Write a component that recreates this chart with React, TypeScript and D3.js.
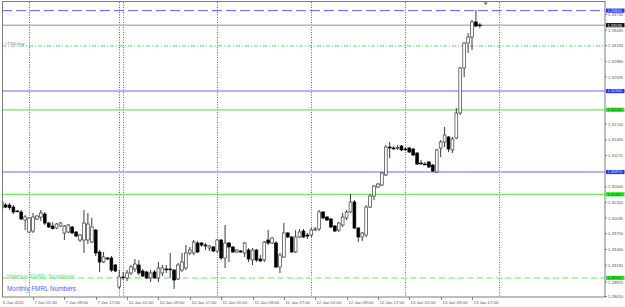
import React from 'react';
import * as d3 from 'd3';

const W = 625;
const H = 307;

// hourly bars, index 0 = 7 Jan 01:00, first bar index = -8
const firstIndex = -8;
const opens = [
  1.30325, 1.30271, 1.30271, 1.30234, 1.30162, 1.30144, 1.29999, 1.29781, 1.29799, 1.30017,
  1.30053, 1.30107, 1.29944, 1.29890, 1.29853, 1.29890, 1.29763, 1.29781, 1.29872, 1.29781,
  1.29636, 1.29636, 1.29636, 1.29599, 1.29817, 1.29418, 1.29236, 1.29309, 1.29309, 1.29182,
  1.28783, 1.28964, 1.28946, 1.29037, 1.29109, 1.29182, 1.29073, 1.29055, 1.28946, 1.29055,
  1.28946, 1.29037, 1.29109, 1.29109, 1.29091, 1.28928, 1.29091, 1.29127, 1.29400, 1.29400,
  1.29581, 1.29581, 1.29545, 1.29490, 1.29509, 1.29436, 1.29636, 1.29309, 1.29581, 1.29509,
  1.29418, 1.29436, 1.29400, 1.29454, 1.29273, 1.29454, 1.29291, 1.29273, 1.29636, 1.29581,
  1.29581, 1.29146, 1.29327, 1.29763, 1.29690, 1.29418, 1.29690, 1.29799, 1.29726, 1.29726,
  1.29817, 1.29835, 1.30144, 1.30053, 1.30017, 1.29890, 1.29817, 1.29908, 1.30035, 1.30144,
  1.30325, 1.29853, 1.29690, 1.29726, 1.30234, 1.30434, 1.30598, 1.30634, 1.30816, 1.31324,
  1.31306, 1.31306, 1.31342, 1.31288, 1.31306, 1.31288, 1.31215, 1.31034, 1.31015, 1.31052,
  1.30997, 1.30870, 1.31306, 1.31415, 1.31506, 1.31270, 1.31488, 1.31941, 1.32759, 1.33212,
  1.33321, 1.33594, 1.33539,
];
const highs = [
  1.30362, 1.30307, 1.30307, 1.30271, 1.30180, 1.30180, 1.30089, 1.30053, 1.30126, 1.30089,
  1.30180, 1.30144, 1.29962, 1.29962, 1.29944, 1.29962, 1.29908, 1.29926, 1.29890, 1.29799,
  1.29745, 1.30180, 1.30126, 1.30035, 1.29835, 1.29454, 1.29418, 1.29327, 1.29345, 1.29200,
  1.29091, 1.29055, 1.29091, 1.29182, 1.29291, 1.29273, 1.29109, 1.29073, 1.29091, 1.29091,
  1.29236, 1.29182, 1.29182, 1.29400, 1.29109, 1.29218, 1.29400, 1.29545, 1.29509, 1.29636,
  1.29618, 1.29599, 1.29581, 1.29545, 1.29527, 1.29654, 1.29654, 1.29908, 1.29599, 1.29527,
  1.29472, 1.29454, 1.29599, 1.29490, 1.29490, 1.29472, 1.29363, 1.29618, 1.29817, 1.29690,
  1.29618, 1.29400, 1.29944, 1.29781, 1.29708, 1.29817, 1.29835, 1.29835, 1.29763, 1.29853,
  1.29872, 1.30180, 1.30162, 1.30071, 1.30035, 1.29908, 1.29962, 1.30126, 1.30180, 1.30470,
  1.30362, 1.29872, 1.29781, 1.30271, 1.30470, 1.30634, 1.30670, 1.30870, 1.31360, 1.31415,
  1.31342, 1.31360, 1.31360, 1.31324, 1.31324, 1.31306, 1.31233, 1.31088, 1.31052, 1.31070,
  1.31015, 1.31288, 1.31451, 1.31687, 1.31524, 1.31506, 1.32032, 1.32777, 1.33230, 1.33394,
  1.33630, 1.33811, 1.33575,
];
const lows = [
  1.30053, 1.30216, 1.30180, 1.30107, 1.30144, 1.29999, 1.29817, 1.29763, 1.29763, 1.29999,
  1.29980, 1.29908, 1.29853, 1.29826, 1.29835, 1.29872, 1.29636, 1.29763, 1.29745, 1.29690,
  1.29599, 1.29400, 1.29563, 1.29581, 1.29345, 1.29055, 1.29218, 1.29273, 1.29055, 1.29055,
  1.28746, 1.28909, 1.28891, 1.29000, 1.29055, 1.29000, 1.28964, 1.28928, 1.28873, 1.28928,
  1.28873, 1.28982, 1.29037, 1.28946, 1.28746, 1.28909, 1.29055, 1.29091, 1.29363, 1.29363,
  1.29400, 1.29509, 1.29454, 1.29436, 1.29418, 1.29400, 1.29273, 1.29127, 1.29236, 1.29400,
  1.29400, 1.29400, 1.29327, 1.29236, 1.29182, 1.29236, 1.29236, 1.29236, 1.29545, 1.29563,
  1.29127, 1.29037, 1.29309, 1.29672, 1.29400, 1.29400, 1.29672, 1.29672, 1.29654, 1.29690,
  1.29799, 1.29799, 1.30017, 1.29980, 1.29853, 1.29781, 1.29781, 1.29872, 1.29999, 1.30126,
  1.29835, 1.29599, 1.29618, 1.29690, 1.30216, 1.30362, 1.30579, 1.30616, 1.30798, 1.31124,
  1.31270, 1.31270, 1.31251, 1.31251, 1.31215, 1.31161, 1.30997, 1.30997, 1.30997, 1.30943,
  1.30870, 1.30852, 1.31142, 1.31324, 1.31233, 1.31215, 1.31470, 1.31905, 1.32595, 1.33031,
  1.33085, 1.33503, 1.33485,
];
const closes = [
  1.30216, 1.30234, 1.30225, 1.30144, 1.30160, 1.30017, 1.30053, 1.30035, 1.30053, 1.30071,
  1.30126, 1.29944, 1.29872, 1.29844, 1.29926, 1.29944, 1.29890, 1.29908, 1.29763, 1.29708,
  1.29726, 1.29944, 1.29926, 1.29872, 1.29400, 1.29236, 1.29327, 1.29291, 1.29091, 1.29073,
  1.28964, 1.28955, 1.29037, 1.29146, 1.29200, 1.29037, 1.28982, 1.28946, 1.29037, 1.28946,
  1.29127, 1.29127, 1.29100, 1.29100, 1.28909, 1.29182, 1.29236, 1.29400, 1.29454, 1.29599,
  1.29418, 1.29545, 1.29527, 1.29527, 1.29436, 1.29636, 1.29309, 1.29581, 1.29509, 1.29418,
  1.29454, 1.29418, 1.29581, 1.29291, 1.29454, 1.29273, 1.29255, 1.29599, 1.29581, 1.29672,
  1.29146, 1.29363, 1.29763, 1.29690, 1.29418, 1.29690, 1.29781, 1.29690, 1.29708, 1.29817,
  1.29835, 1.30144, 1.30035, 1.29999, 1.29872, 1.29799, 1.29944, 1.30053, 1.30144, 1.30325,
  1.29853, 1.29690, 1.29763, 1.30234, 1.30434, 1.30616, 1.30652, 1.30852, 1.31324, 1.31306,
  1.31300, 1.31315, 1.31270, 1.31285, 1.31233, 1.31179, 1.31015, 1.31030, 1.31012, 1.30961,
  1.30888, 1.31270, 1.31415, 1.31542, 1.31288, 1.31470, 1.31941, 1.32759, 1.33212, 1.33321,
  1.33594, 1.33521, 1.33530,
];

// time axis labels (bar index + text)
const timeTickIndex = [-8, 0, 8, 16, 24, 32, 40, 48, 56, 64, 72, 80, 88, 96, 104, 112];
const timeTickLabels = [
  '6 Jan 2011', '7 Jan 01:00', '7 Jan 09:00', '7 Jan 17:00', '10 Jan 01:00', '10 Jan 09:00',
  '10 Jan 17:00', '11 Jan 01:00', '11 Jan 09:00', '11 Jan 17:00', '12 Jan 01:00', '12 Jan 09:00',
  '12 Jan 17:00', '13 Jan 01:00', '13 Jan 09:00', '13 Jan 17:00',
];
// day separators (bar index of day start)
const separatorIndex = [-1, 22, 23, 47, 71, 95, 119];

// price axis labels
const priceTicks = [
  '1.33730', '1.33445', '1.33165', '1.32880', '1.32595', '1.31740', '1.31455', '1.31170',
  '1.30600', '1.30320', '1.30035', '1.29750', '1.29465', '1.29180', '1.28870', '1.28610',
];

// horizontal levels
const levelPrices = [1.338, 1.33536, 1.33158, 1.3234, 1.32, 1.3087, 1.30465, 1.28947];
const levelKinds = ['blueDash', 'bid', 'greenDashDot', 'blue', 'green', 'blue', 'green', 'greenDash'];

const LINE_STYLE: Record<string, { stroke: string; width: number; dash?: string }> = {
  blueDash: { stroke: '#4f5ff0', width: 1, dash: '10 4' },
  bid: { stroke: '#b4b4b4', width: 1.5 },
  greenDashDot: { stroke: '#5fd35f', width: 1, dash: '4 2 1 2' },
  blue: { stroke: '#b0b5f8', width: 2 },
  green: { stroke: '#6fe85c', width: 1.2 },
  greenDash: { stroke: '#b3f2b0', width: 2, dash: '6 3.5' },
};
const BOX_STYLE: Record<string, { fill: string; text: string } | null> = {
  blueDash: { fill: '#2a34ee', text: '#dfe3ff' },
  bid: { fill: '#111111', text: '#ffffff' },
  greenDashDot: null,
  blue: { fill: '#2a34ee', text: '#dfe3ff' },
  green: { fill: '#25e625', text: '#0f6a0f' },
  greenDash: { fill: '#25e625', text: '#0f6a0f' },
};

const left = 2;
const right = 605;
const top = 2;
const bottom = 297;

export default function App() {
  const x = d3.scaleLinear().domain([0, 112]).range([33, 472]);
  const y = d3.scaleLinear().domain([1.2861, 1.3373]).range([296.5, 14.5]);
  const font = '"Liberation Sans", Arial, sans-serif';

  const candles = opens.map((o, k) => ({
    i: firstIndex + k,
    o,
    h: highs[k],
    l: lows[k],
    c: closes[k],
  }));

  return (
    <svg
      width={W}
      height={H}
      style={{ position: 'absolute', left: 0, top: 0, background: '#fff' }}
    >
      <rect x={0} y={0} width={W} height={H} fill="#ffffff" />
      <defs>
        <clipPath id="plot">
          <rect x={left} y={top} width={right - left} height={bottom - top} />
        </clipPath>
      </defs>

      <g clipPath="url(#plot)">
        {separatorIndex.map((s) => {
          const px = Math.round(x(s)) + 0.5;
          return (
            <line
              key={s}
              x1={px}
              x2={px}
              y1={top}
              y2={bottom}
              stroke="#666"
              strokeWidth={1}
              strokeDasharray="1 1.5"
            />
          );
        })}

        {levelPrices.map((p, k) => {
          const st = LINE_STYLE[levelKinds[k]];
          return (
            <line
              key={k}
              x1={left}
              x2={right}
              y1={y(p)}
              y2={y(p)}
              stroke={st.stroke}
              strokeWidth={st.width}
              strokeDasharray={st.dash}
            />
          );
        })}

        {candles.map((d) => {
          const cx = x(d.i);
          const bull = d.c >= d.o;
          const yTop = y(Math.max(d.o, d.c));
          const yBot = y(Math.min(d.o, d.c));
          const bh = Math.max(0.8, yBot - yTop);
          return (
            <g key={d.i}>
              <line x1={cx} x2={cx} y1={y(d.h)} y2={y(d.l)} stroke="#3a3a3a" strokeWidth={1} />
              <rect
                x={cx - 1.4}
                y={yTop}
                width={2.8}
                height={bh}
                fill={bull ? '#ffffff' : '#000000'}
                stroke={bull ? '#3a3a3a' : '#000000'}
                strokeWidth={0.7}
              />
            </g>
          );
        })}

        <path d={`M${x(115.5) - 2},2.5 L${x(115.5) + 2},2.5 L${x(115.5)},5 Z`} fill="#555" />
      </g>

      <rect
        x={left + 0.5}
        y={top - 0.5}
        width={right - left - 0.5}
        height={bottom - top + 0.5}
        fill="none"
        stroke="#7a7a7a"
        strokeWidth={1}
      />

      <text x={5} y={45} fontFamily={font} fontSize={4.2} fill="#777">
        #7550 buy
      </text>
      <text x={7} y={278.5} fontFamily={font} fontSize={6.4} fill="#7fe07f">
        Weekly FMRL Numbers
      </text>
      <text x={7} y={290.5} fontFamily={font} fontSize={6.4} fill="#5a5ef0">
        Monthly FMRL Numbers
      </text>

      {priceTicks.map((t) => {
        const py = y(+t);
        return (
          <g key={t}>
            <line x1={right} x2={right + 2} y1={py} y2={py} stroke="#666" strokeWidth={0.8} />
            <text x={608} y={py + 1.6} fontFamily={font} fontSize={4.2} fill="#555">
              {t}
            </text>
          </g>
        );
      })}

      {levelPrices.map((p, k) => {
        const b = BOX_STYLE[levelKinds[k]];
        if (!b) return null;
        const py = y(p);
        return (
          <g key={'b' + k}>
            <rect x={606} y={py - 2.1} width={18.5} height={4.2} fill={b.fill} />
            <text x={607.5} y={py + 1.4} fontFamily={font} fontSize={4} fill={b.text}>
              {p.toFixed(5)}
            </text>
          </g>
        );
      })}

      {timeTickIndex.map((ti, k) => {
        const px = Math.round(x(ti)) + 0.5;
        return (
          <g key={ti}>
            {k > 0 && (
              <line x1={px} x2={px} y1={bottom} y2={bottom + 3} stroke="#666" strokeWidth={0.8} />
            )}
            <text
              x={k === 0 ? 3 : px + 1}
              y={304}
              fontFamily={font}
              fontSize={4.3}
              fill="#555"
            >
              {timeTickLabels[k]}
            </text>
          </g>
        );
      })}
    </svg>
  );
}
